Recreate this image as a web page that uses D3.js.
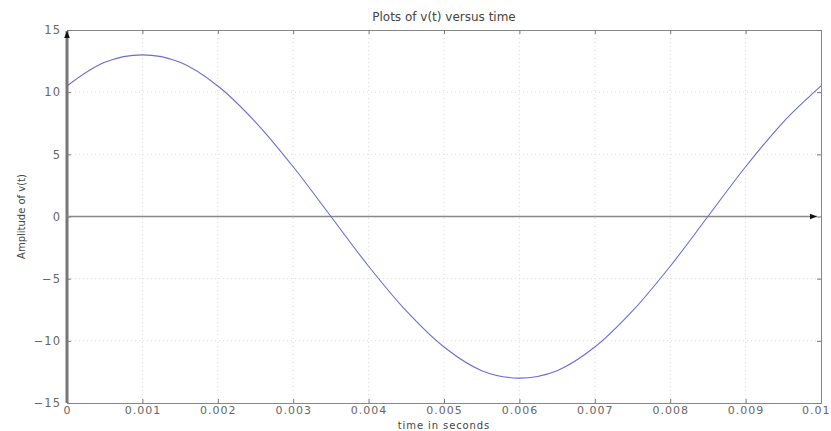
<!DOCTYPE html>
<html>
<head>
<meta charset="utf-8">
<script src="https://cdn.jsdelivr.net/npm/d3@7"></script>
<style>
  body { margin: 0; background: #fff; }
  text { font-family: "DejaVu Sans", "Liberation Sans", Arial, sans-serif; }
</style>
</head>
<body>
<svg id="chart" width="831" height="431"></svg>
<script>
// values, every 0.5 ms
const times = [0, 0.0005, 0.001, 0.0015, 0.002, 0.0025, 0.003, 0.0035, 0.004, 0.0045, 0.005,
  0.0055, 0.006, 0.0065, 0.007, 0.0075, 0.008, 0.0085, 0.009, 0.0095, 0.01];
const amps = [10.5, 12.4, 13.0, 12.4, 10.5, 7.6, 4.0, 0.0, -4.0, -7.6, -10.5,
  -12.4, -13.0, -12.4, -10.5, -7.6, -4.0, 0.0, 4.0, 7.6, 10.5];
const xTicks = [0, 0.001, 0.002, 0.003, 0.004, 0.005, 0.006, 0.007, 0.008, 0.009, 0.01];
const yTicks = [-15, -10, -5, 0, 5, 10, 15];

const svg = d3.select('#chart');
const m = {left: 67, right: 10, top: 30, bottom: 28};
const W = 831 - m.left - m.right, H = 431 - m.top - m.bottom;
const g = svg.append('g').attr('transform', `translate(${m.left},${m.top})`);

const x = d3.scaleLinear().domain([0, 0.01]).range([0, W]);
const y = d3.scaleLinear().domain([-15, 15]).range([H, 0]);

svg.append('defs').append('marker')
  .attr('id', 'arr').attr('viewBox', '0 0 10 10').attr('refX', 10).attr('refY', 5)
  .attr('markerUnits', 'userSpaceOnUse')
  .attr('markerWidth', 8).attr('markerHeight', 7).attr('orient', 'auto')
  .append('path').attr('d', 'M0,1L10,5L0,9Z').attr('fill', '#111');

// grid
g.selectAll('.gx').data(xTicks.slice(1, -1)).join('line')
  .attr('x1', d => x(d)).attr('x2', d => x(d)).attr('y1', 0).attr('y2', H)
  .attr('stroke', '#ddd').attr('stroke-dasharray', '1,3');
g.selectAll('.gy').data(yTicks.slice(1, -1)).join('line')
  .attr('x1', 0).attr('x2', W).attr('y1', d => y(d)).attr('y2', d => y(d))
  .attr('stroke', '#ddd').attr('stroke-dasharray', '1,3');

// box with inward ticks
const tickStyle = sel => {
  sel.select('.domain').attr('stroke', '#888');
  sel.selectAll('.tick line').attr('stroke', '#777');
  sel.selectAll('.tick text').attr('fill', '#666').attr('font-size', 11.5)
    .attr('letter-spacing', 1);
};
const xAxis = g.append('g').attr('transform', `translate(0,${H})`)
  .call(d3.axisBottom(x).tickValues(xTicks).tickFormat(d => d === 0 ? '0' : d3.format('.3~f')(d))
    .tickSizeInner(-4).tickSizeOuter(0).tickPadding(3))
  .call(tickStyle);
xAxis.selectAll('.tick text').attr('font-size', 11);
// last label would run off the page
xAxis.selectAll('.tick text').filter(d => d === 0.01)
  .attr('text-anchor', 'end').attr('dx', 9);
g.append('g')
  .call(d3.axisTop(x).tickValues(xTicks).tickFormat('').tickSizeInner(-4).tickSizeOuter(0))
  .call(tickStyle);
g.append('g')
  .call(d3.axisLeft(y).tickValues(yTicks).tickSizeInner(-4).tickSizeOuter(0).tickPadding(6))
  .call(tickStyle);
g.append('g').attr('transform', `translate(${W},0)`)
  .call(d3.axisRight(y).tickValues(yTicks).tickFormat('').tickSizeInner(-4).tickSizeOuter(0))
  .call(tickStyle);

// reference axes with arrows
g.append('line').attr('x1', 0).attr('x2', 0).attr('y1', H).attr('y2', 1)
  .attr('stroke', '#777').attr('stroke-width', 3).attr('marker-end', 'url(#arr)');
g.append('line').attr('x1', 0).attr('x2', W - 4).attr('y1', y(0)).attr('y2', y(0))
  .attr('stroke', '#888').attr('stroke-width', 1.5).attr('marker-end', 'url(#arr)');

// signal
const line = d3.line().x((d, i) => x(times[i])).y(d => y(d)).curve(d3.curveCatmullRom);
g.append('path').datum(amps).attr('d', line)
  .attr('fill', 'none').attr('stroke', '#6b6bd6').attr('stroke-width', 1.1);

// labels
svg.append('text').attr('x', m.left + W / 2).attr('y', 21).attr('text-anchor', 'middle')
  .attr('font-size', 12).attr('fill', '#444').text('Plots of v(t) versus time');
svg.append('text').attr('x', m.left + W / 2).attr('y', 428.5).attr('text-anchor', 'middle')
  .attr('font-size', 10).attr('letter-spacing', 0.9).attr('fill', '#444').text('time in seconds');
svg.append('text').attr('transform', `translate(25,${m.top + H / 2}) rotate(-90)`)
  .attr('text-anchor', 'middle').attr('font-size', 10)
  .attr('font-family', '"Liberation Sans Narrow", "Liberation Sans", sans-serif')
  .attr('fill', '#444').text('Amplitude of v(t)');
</script>
</body>
</html>
